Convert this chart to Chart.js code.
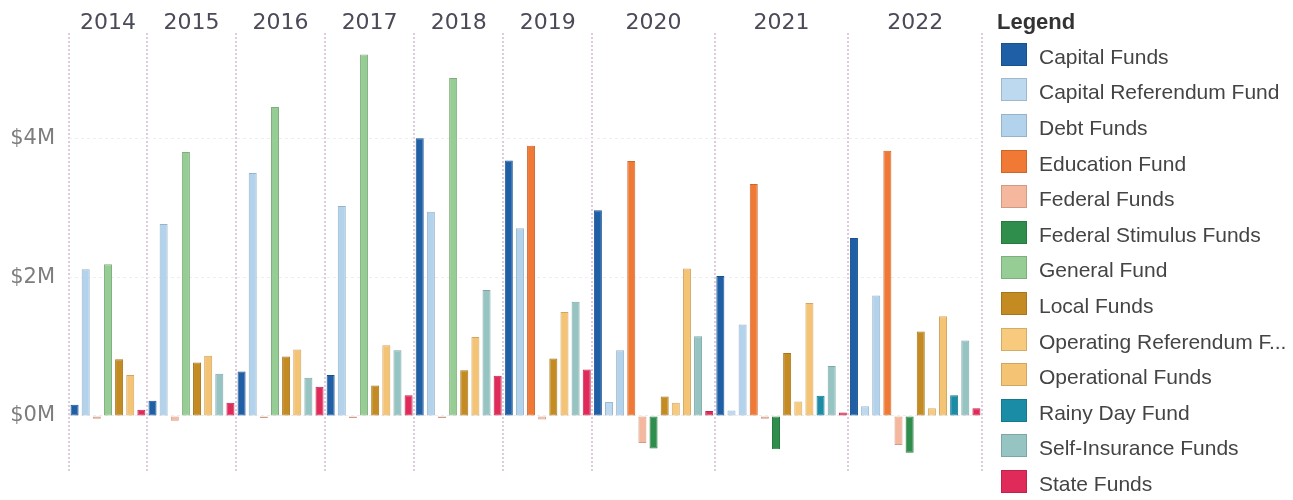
<!DOCTYPE html>
<html>
<head>
<meta charset="utf-8">
<title>Funds by Year</title>
<script src="https://cdn.jsdelivr.net/npm/chart.js@4.4.1/dist/chart.umd.min.js"></script>
<style>
  body { margin: 0; background: #fff; }
  #wrap { position: relative; width: 1293px; height: 500px; }
  #legend { position: absolute; left: 997px; top: 0; width: 296px; height: 500px;
            font-family: "Liberation Sans", Arial, sans-serif; color: #444; }
  #legend h3 { position: absolute; top: 9px; left: 0; margin: 0; font-size: 22px;
               line-height: 26px; font-weight: bold; color: #333; white-space: nowrap; }
  .item { position: absolute; left: 4px; height: 23px; white-space: nowrap; }
  .swatch { position: absolute; left: 0; top: 0; width: 26px; height: 23px;
            box-sizing: border-box; border: 1px solid rgba(0, 0, 0, 0.15); }
  .item span { position: absolute; left: 38px; top: 2px; font-size: 21px; line-height: 23px; }
</style>
</head>
<body>
<div id="wrap">
  <canvas id="chart" width="1293" height="500"></canvas>
  <div id="legend"><h3>Legend</h3></div>
</div>
<script>
const years = ["2014", "2015", "2016", "2017", "2018", "2019", "2020", "2021", "2022"];

const fundNames = [
  "Capital Funds",
  "Capital Referendum Fund",
  "Debt Funds",
  "Education Fund",
  "Federal Funds",
  "Federal Stimulus Funds",
  "General Fund",
  "Local Funds",
  "Operating Referendum F...",
  "Operational Funds",
  "Rainy Day Fund",
  "Self-Insurance Funds",
  "State Funds"
];

const fundColors = [
  "#1f5fa6", "#bcd9f0", "#b3d2ec", "#ef7935", "#f5b79d", "#2f8e4c", "#96cd94",
  "#c38b22", "#f7ca7e", "#f5c374", "#1b8ca6", "#95c4c3", "#e02a5a"
];

// amounts in $M per year, null = fund not present that year
const capitalFunds        = [0.16, 0.22, 0.64, 0.59, 4.01, 3.69, 2.97, 2.02, 2.57];
const capitalReferendum   = [null, null, null, null, null, null, 0.20, 0.08, 0.14];
const debtFunds           = [2.12, 2.77, 3.51, 3.03, 2.95, 2.71, 0.95, 1.32, 1.74];
const educationFund       = [null, null, null, null, null, 3.90, 3.68, 3.35, 3.83];
const federalFunds        = [-0.04, -0.07, -0.03, -0.03, -0.03, -0.05, -0.39, -0.04, -0.42];
const federalStimulus     = [null, null, null, null, null, null, -0.47, -0.48, -0.53];
const generalFund         = [2.19, 3.81, 4.46, 5.22, 4.88, null, null, null, null];
const localFunds          = [0.82, 0.77, 0.86, 0.44, 0.66, 0.83, 0.28, 0.91, 1.22];
const operatingReferendum = [null, null, null, null, null, null, 0.19, 0.21, 0.11];
const operationalFunds    = [0.59, 0.87, 0.96, 1.02, 1.14, 1.50, 2.13, 1.63, 1.44];
const rainyDayFund        = [null, null, null, null, null, null, null, 0.29, 0.30];
const selfInsurance       = [null, 0.61, 0.55, 0.95, 1.82, 1.65, 1.15, 0.72, 1.09];
const stateFunds          = [0.09, 0.19, 0.42, 0.30, 0.58, 0.67, 0.07, 0.05, 0.11];

const yTicks = [0, 2, 4];

const fundValues = [
  capitalFunds, capitalReferendum, debtFunds, educationFund, federalFunds,
  federalStimulus, generalFund, localFunds, operatingReferendum, operationalFunds,
  rainyDayFund, selfInsurance, stateFunds
];

function darken(hex, k) {
  const n = parseInt(hex.slice(1), 16);
  const r = Math.round(((n >> 16) & 255) * k);
  const g = Math.round(((n >> 8) & 255) * k);
  const b = Math.round((n & 255) * k);
  return `rgb(${r},${g},${b})`;
}

// every year gets its own panel holding only the funds it has
const slotLabels = [];
const slotValues = [];
const slotColors = [];
const panelCenters = [];
const panelEdges = [-0.5];
years.forEach((year, y) => {
  const start = slotValues.length;
  fundValues.forEach((vals, f) => {
    if (vals[y] === null) return;
    slotLabels.push(year + " " + fundNames[f]);
    slotValues.push(vals[y]);
    slotColors.push(fundColors[f]);
  });
  panelCenters.push((start + slotValues.length - 1) / 2);
  panelEdges.push(slotValues.length - 0.5);
});
const xMax = slotValues.length - 0.5;

// linear x axes would otherwise pad the chart area for their end labels
function noSidePadding(s) {
  s.paddingLeft = 0;
  s.paddingRight = 0;
}

/*----- legend -----*/
const legendEl = document.getElementById("legend");
fundNames.forEach((name, i) => {
  const item = document.createElement("div");
  item.className = "item";
  item.style.top = (42.7 + i * 35.6) + "px";
  item.innerHTML = `<div class="swatch" style="background:${fundColors[i]}"></div><span>${name}</span>`;
  legendEl.appendChild(item);
});

/*----- chart -----*/
new Chart(document.getElementById("chart"), {
  type: "bar",
  data: {
    labels: slotLabels,
    datasets: [{
      data: slotValues,
      backgroundColor: slotColors,
      borderColor: slotColors.map(c => darken(c, 0.85)),
      borderWidth: 1,
      borderSkipped: false,
      barPercentage: 0.72,
      categoryPercentage: 1
    }]
  },
  options: {
    responsive: false,
    animation: false,
    layout: { padding: { top: 0, right: 311, bottom: 26, left: 0 } },
    plugins: {
      legend: { display: false },
      tooltip: { enabled: false }
    },
    scales: {
      x: { type: "category", display: false, offset: true },
      // year names over each panel (bar charts default x axes to offset, so turn it off)
      years: {
        type: "linear",
        position: "top",
        min: -0.5,
        max: xMax,
        offset: false,
        grid: { display: false, offset: false },
        border: { display: false },
        afterBuildTicks: s => { s.ticks = panelCenters.map(v => ({ value: v })); },
        afterFit: s => { s.height = 33; noSidePadding(s); },
        ticks: {
          autoSkip: false,
          maxRotation: 0,
          padding: -11,
          color: "#4a4a58",
          font: { family: "DejaVu Sans", size: 22 },
          callback: (v, i) => years[i]
        }
      },
      // dotted separators between the year panels
      panels: {
        type: "linear",
        position: "bottom",
        min: -0.5,
        max: xMax,
        offset: false,
        ticks: { display: false },
        grid: { color: "rgba(218,198,218,0.9)", lineWidth: 2, drawTicks: false, offset: false },
        border: { display: false, dash: [2, 2] },
        afterBuildTicks: s => { s.ticks = panelEdges.map(v => ({ value: v })); },
        afterFit: s => { s.height = 0; noSidePadding(s); }
      },
      y: {
        min: -0.83,
        max: 5.53,
        grid: { color: "#eeeeee", drawTicks: false },
        border: { display: false, dash: [3, 3] },
        afterBuildTicks: s => { s.ticks = yTicks.map(v => ({ value: v })); },
        afterFit: s => { s.width = 69; },
        ticks: {
          padding: 14,
          color: "#7d7d7d",
          font: { family: "DejaVu Sans", size: 21 },
          callback: v => "$" + v + "M"
        }
      }
    }
  }
});
</script>
</body>
</html>
